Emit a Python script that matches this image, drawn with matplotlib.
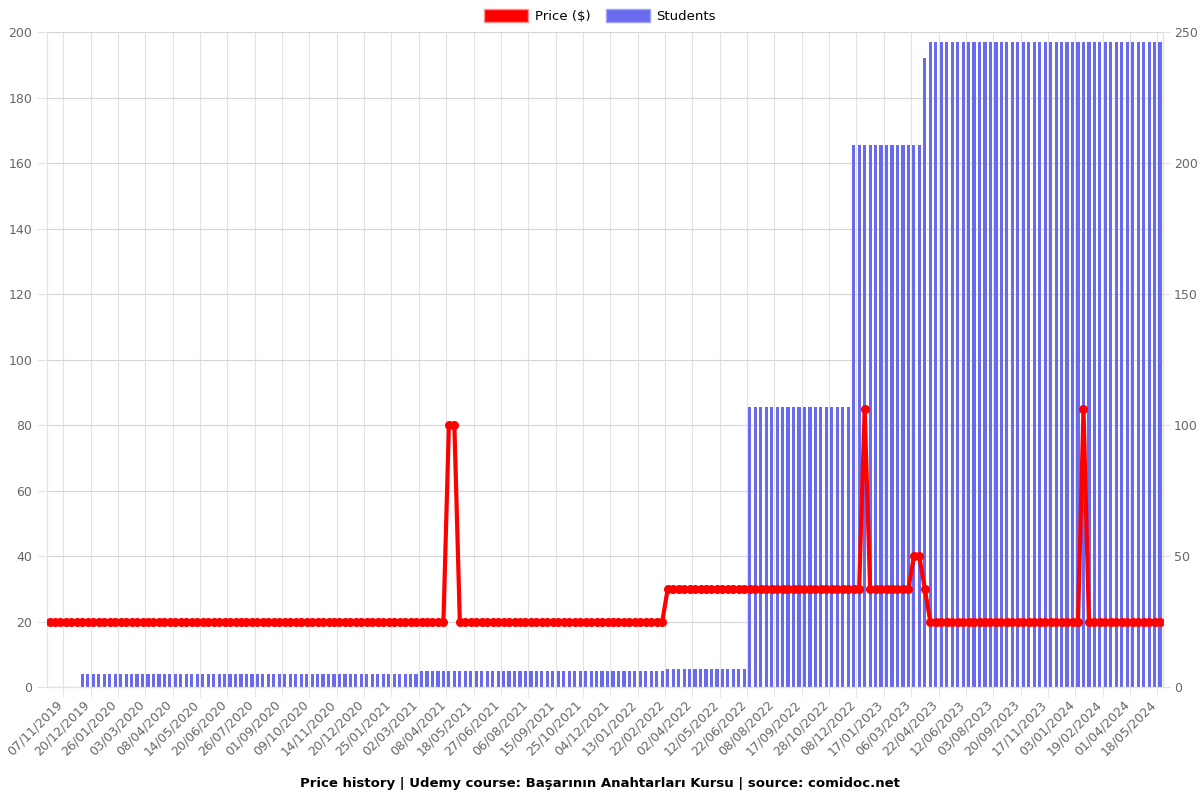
import matplotlib
matplotlib.use('Agg')
import matplotlib.pyplot as plt
from matplotlib.patches import Patch
from matplotlib.ticker import MultipleLocator, FixedLocator

# price runs: (value, number of consecutive points)
price_runs = [(20, 73), (80, 2), (20, 38), (30, 36), (85, 1), (30, 8),
              (40, 2), (30, 1), (20, 28), (85, 1), (20, 14)]
# students runs: (value, number of consecutive points)
student_runs = [(0, 6), (5, 62), (6, 45), (7, 15), (107, 19), (207, 13),
                (240, 1), (246, 43)]

tick_dates = ['07/11/2019', '20/12/2019', '26/01/2020', '03/03/2020', '08/04/2020',
              '14/05/2020', '20/06/2020', '26/07/2020', '01/09/2020', '09/10/2020',
              '14/11/2020', '20/12/2020', '25/01/2021', '02/03/2021', '08/04/2021',
              '18/05/2021', '27/06/2021', '06/08/2021', '15/09/2021', '25/10/2021',
              '04/12/2021', '13/01/2022', '22/02/2022', '02/04/2022', '12/05/2022',
              '22/06/2022', '08/08/2022', '17/09/2022', '28/10/2022', '08/12/2022',
              '17/01/2023', '06/03/2023', '22/04/2023', '12/06/2023', '03/08/2023',
              '20/09/2023', '17/11/2023', '03/01/2024', '19/02/2024', '01/04/2024',
              '18/05/2024']

price = []
for v, n in price_runs:
    price += [v] * n
students = []
for v, n in student_runs:
    students += [v] * n
x = list(range(len(price)))

red = '#ff0000'
blue = '#6a6aef'
grid_c = '#e2e2e2'
txt_c = '#666666'

fig = plt.figure(figsize=(12, 8), dpi=100)
ax = fig.add_axes([0.039, 0.141, 0.930, 0.819])
ax2 = ax.twinx()

# students bars (right scale), drawn on the bottom axes so grid stays behind
ax.bar(x, students, width=0.58, color=blue, zorder=2)
ax.set_ylim(0, 250)
ax.yaxis.set_major_locator(MultipleLocator(50))
ax.yaxis.set_minor_locator(MultipleLocator(25))
ax.set_xlim(-0.5, len(x) - 0.5)
ax.set_axisbelow(True)
ax.grid(True, which='both', axis='y', color='#d6d6d6', lw=0.8)

# gridlines / tick marks on category boundaries, labels a bit to the left
grid_pos = [2.5 + 5 * i for i in range(len(tick_dates))]
ax.xaxis.set_minor_locator(FixedLocator(grid_pos))
ax.grid(True, which='minor', axis='x', color=grid_c, lw=0.8)
ax.set_xticks([g - 1.4 for g in grid_pos])
ax.set_xticklabels(tick_dates, rotation=45, ha='right', rotation_mode='anchor')
ax.tick_params(axis='x', which='major', length=0, labelcolor=txt_c, labelsize=9, pad=8)
ax.tick_params(axis='x', which='minor', colors=grid_c, length=7)

# price line (left scale)
ax2.plot(x, price, color=red, lw=3, marker='o', markersize=5.5, zorder=3)
ax2.set_ylim(0, 200)
ax2.yaxis.set_major_locator(MultipleLocator(20))

# swap sides: students on the right, price on the left
ax.yaxis.tick_right()
ax2.yaxis.tick_left()
ax.tick_params(axis='y', which='major', colors=grid_c, labelcolor=txt_c, labelsize=9,
               length=5, pad=3, left=False, labelleft=False, right=True, labelright=True)
ax.tick_params(axis='y', which='minor', length=0, left=False, right=False)
ax2.tick_params(axis='y', colors=grid_c, labelcolor=txt_c, labelsize=9, length=7,
                left=True, labelleft=True, right=False, labelright=False)

for a in (ax, ax2):
    for s in a.spines.values():
        s.set_color(grid_c)
    a.spines['top'].set_visible(False)
ax.spines['bottom'].set_color('#cccccc')

handles = [Patch(facecolor=red, edgecolor='#ff9090', label='Price ($)'),
           Patch(facecolor=blue, edgecolor='#a0a0f5', label='Students')]
fig.legend(handles=handles, loc='center', bbox_to_anchor=(0.5, 1 - 16 / 800), ncol=2,
           frameon=False, fontsize=9.5, handlelength=3.3, handleheight=1.1,
           columnspacing=1.2, handletextpad=0.5)

fig.text(0.5, 1 - 783 / 800,
         'Price history | Udemy course: Başarının Anahtarları Kursu | source: comidoc.net',
         ha='center', va='center', fontsize=9.5, fontweight='bold')

fig.savefig('out.png', dpi=100)
